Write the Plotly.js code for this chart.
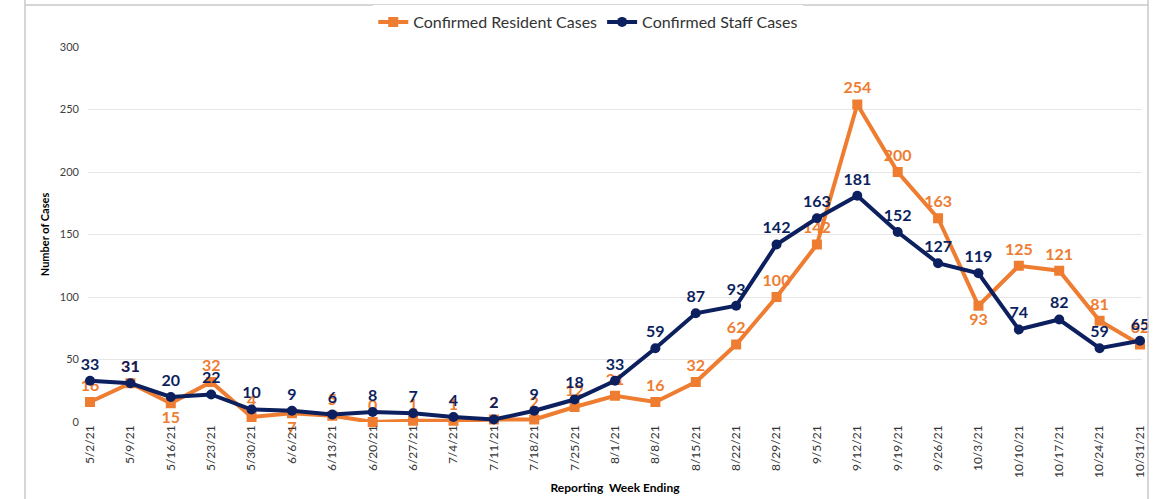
<!DOCTYPE html>
<html><head><meta charset="utf-8">
<script src="https://cdn.plot.ly/plotly-3.0.1.min.js"></script>
<style>html,body{margin:0;padding:0;background:#fff}#c{width:1158px;height:499px}</style>
</head><body><div id="c"></div>
<script>
const weeks = ["5/2/21","5/9/21","5/16/21","5/23/21","5/30/21","6/6/21","6/13/21","6/20/21","6/27/21","7/4/21","7/11/21","7/18/21","7/25/21","8/1/21","8/8/21","8/15/21","8/22/21","8/29/21","9/5/21","9/12/21","9/19/21","9/26/21","10/3/21","10/10/21","10/17/21","10/24/21","10/31/21"];
const residentCases = [16,31,15,32,4,7,5,0,1,1,2,2,12,21,16,32,62,100,142,254,200,163,93,125,121,81,62];
const staffCases = [33,31,20,22,10,9,6,8,7,4,2,9,18,33,59,87,93,142,163,181,152,127,119,74,82,59,65];

const orange = "#EE7D31", navy = "#0C1F5E";
const resPos = residentCases.map((v,i)=> (i===2||i===5||i===22) ? "bottom center" : "top center");
const lblFont = {family:"Lato, 'Open Sans', sans-serif", size:16};

const traces = [
  {x:weeks, y:residentCases, name:"Confirmed Resident Cases", type:"scatter", mode:"lines+markers+text",
   line:{color:orange, width:4}, marker:{symbol:"square", size:10, color:orange},
   text:residentCases.map(String), textposition:resPos,
   textfont:Object.assign({color:orange, weight:"bold"}, lblFont), cliponaxis:false},
  {x:weeks, y:staffCases, name:"Confirmed Staff Cases", type:"scatter", mode:"lines+markers+text",
   line:{color:navy, width:4}, marker:{symbol:"circle", size:10, color:navy},
   text:staffCases.map(String), textposition:"top center",
   textfont:Object.assign({color:navy, weight:"bold"}, lblFont), cliponaxis:false}
];

const W = 1158, L = 88, R = 16, PW = W - L - R;
const px = v => (v - L) / PW;

const layout = {
  width:1158, height:499,
  margin:{l:L, r:R, t:47, b:77, autoexpand:false},
  paper_bgcolor:"#fff", plot_bgcolor:"#fff",
  font:{family:"Lato, 'Open Sans', sans-serif", color:"#404040"},
  showlegend:true,
  legend:{orientation:"h", x:0.508, xanchor:"center", xref:"container", y:1-22/499, yanchor:"middle", yref:"container",
          font:{size:16, color:"#333"}, traceorder:"normal"},
  xaxis:{type:"category", range:[-0.05, 26.05], tickangle:-90,
         tickfont:{size:12, color:"#333"}, showgrid:false, zeroline:false,
         showline:false, ticks:"",
         title:{text:"Reporting  Week Ending", font:{size:12, color:"#000", weight:"bold"}, standoff:6}},
  yaxis:{range:[0,300], dtick:50, tickfont:{size:11, color:"#404040"}, ticklabelstandoff:8,
         gridcolor:"#e6e6e6", gridwidth:1, zeroline:false, showline:false, ticks:"",
         title:{text:"Number of Cases", font:{size:11, color:"#000", weight:"bold"}, standoff:8}},
  shapes:[
    {type:"line", xref:"paper", yref:"paper", x0:px(25), x1:px(25), y0:1.3, y1:-0.3, line:{color:"#c8c8c8", width:1.5}},
    {type:"line", xref:"paper", yref:"paper", x0:px(1148), x1:px(1148), y0:1.3, y1:-0.3, line:{color:"#c8c8c8", width:1.5}},
    {type:"line", xref:"paper", yref:"paper", x0:px(25), x1:px(1148), y0:(422-5)/375, y1:(422-5)/375, line:{color:"#c8c8c8", width:1.5}}
  ]
};
Plotly.newPlot("c", traces, layout, {displayModeBar:false, staticPlot:true});
</script></body></html>
